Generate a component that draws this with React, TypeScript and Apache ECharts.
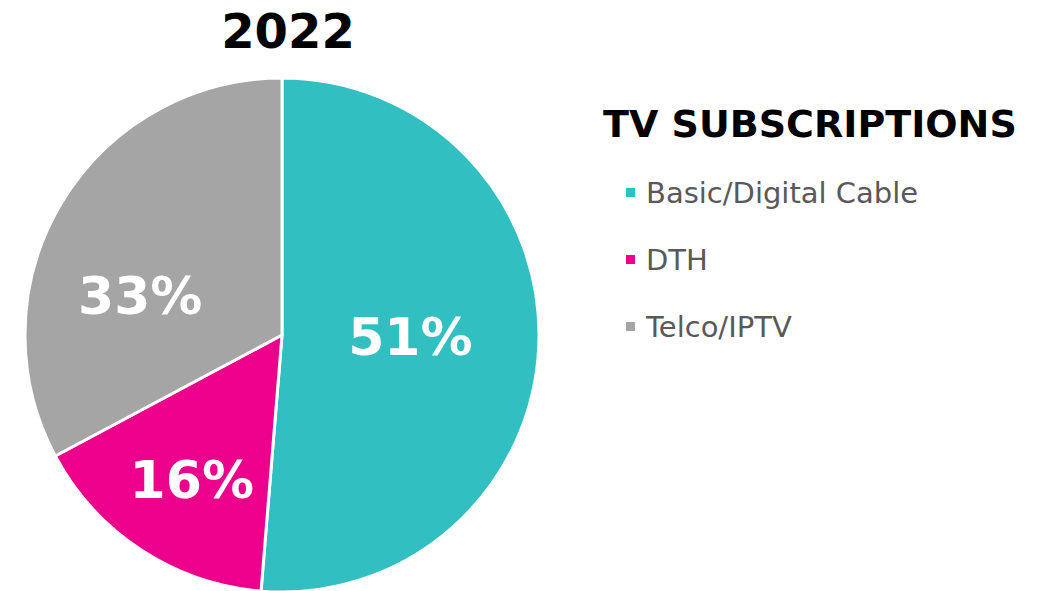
import React, { useEffect, useRef } from "react";
import * as echarts from "echarts";

const categories = ["Basic/Digital Cable", "DTH", "Telco/IPTV"];
const shares = [51.3, 15.9, 32.8];
const colors = ["#31BFC1", "#EC008C", "#A5A5A5"];
const labelShifts = [
  [-3, -3],
  [-18, 35],
  [-29, 29],
];
const chartTitle = "2022";
const legendTitle = "TV SUBSCRIPTIONS";

export default function App() {
  const ref = useRef<HTMLDivElement>(null);
  useEffect(() => {
    document.body.style.margin = "0";
    const chart = echarts.init(ref.current!, null, { renderer: "svg" });
    const font = "'DejaVu Sans', Verdana, sans-serif";
    chart.setOption({
      animation: false,
      backgroundColor: "#ffffff",
      title: [
        {
          text: chartTitle,
          left: 283,
          top: 2,
          textAlign: "center",
          textStyle: { fontFamily: font, fontWeight: "bold", fontSize: 48, lineHeight: 48, color: "#000" },
        },
        {
          text: legendTitle,
          left: 598,
          top: 100,
          textStyle: { fontFamily: font, fontWeight: "bold", fontSize: 38, lineHeight: 38, color: "#000" },
        },
      ],
      legend: {
        orient: "vertical",
        left: 619,
        top: 173,
        icon: "rect",
        itemWidth: 11,
        itemHeight: 11,
        itemGap: 38,
        data: categories,
        textStyle: {
          fontFamily: font,
          fontSize: 29,
          color: "#595959",
          lineHeight: 29,
          padding: [0, 0, 0, 5],
        },
      },
      series: [
        {
          type: "pie",
          center: [282, 335],
          radius: [0, 257],
          startAngle: 90,
          clockwise: true,
          data: categories.map((name, i) => ({
            name,
            value: shares[i],
            itemStyle: { color: colors[i] },
          })),
          itemStyle: { borderColor: "#ffffff", borderWidth: 3 },
          label: {
            show: true,
            position: "inside",
            formatter: (p: any) => Math.round(p.value) + "%",
            fontFamily: font,
            fontWeight: "bold",
            fontSize: 52,
            color: "#ffffff",
          },
          labelLayout: (p: any) => ({ dx: labelShifts[p.dataIndex][0], dy: labelShifts[p.dataIndex][1] }),
          labelLine: { show: false },
          emphasis: { disabled: true },
        },
      ],
    });
    return () => chart.dispose();
  }, []);
  return <div ref={ref} style={{ width: 1040, height: 591 }} />;
}
